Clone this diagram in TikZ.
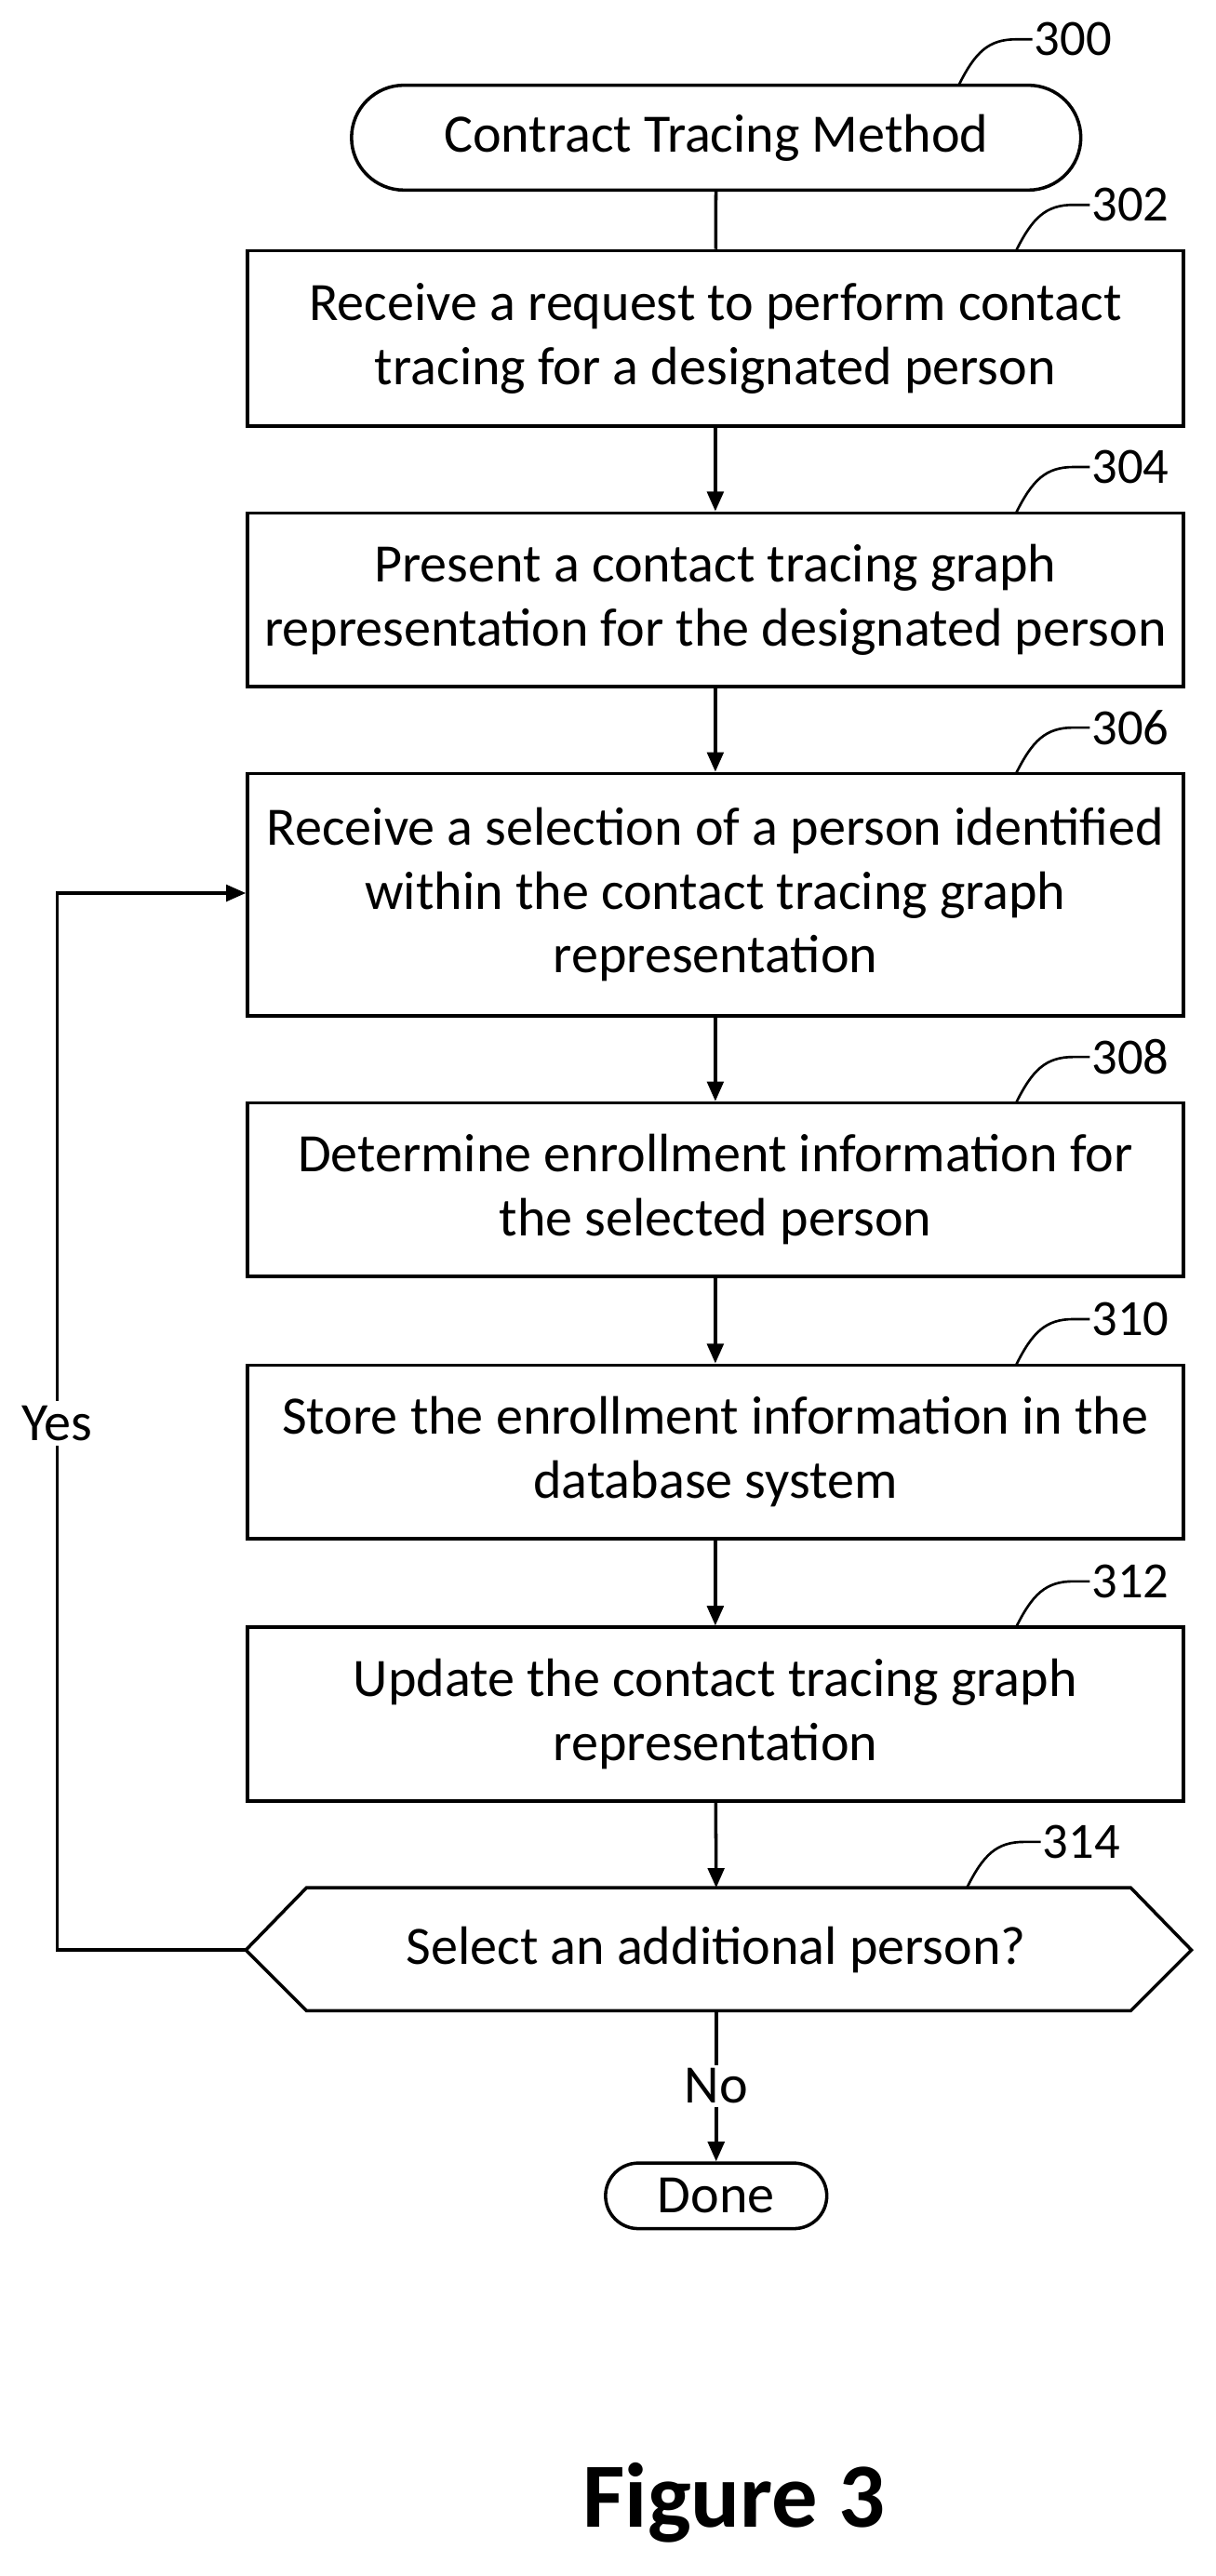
\documentclass[tikz,border=0pt]{standalone}
\usepackage{fontspec}
\setmainfont{Carlito}
\usetikzlibrary{arrows.meta}
\begin{document}
\begin{tikzpicture}[x=1pt,y=-1pt,
  txt/.style={font=\fontsize{33}{39}\selectfont,align=center},
  box/.style={draw,line width=2pt,txt},
  ln/.style={line width=2pt},
  arr/.style={ln,-{Triangle[length=12pt,width=10pt]}},
  lab/.style={font=\fontsize{31}{33}\selectfont,anchor=west,inner sep=1pt}]
\useasboundingbox (0,0) rectangle (742,1572);
\node[box,rounded corners=32pt,minimum width=445pt,minimum height=64pt] (s) at (437,84) {Contract Tracing Method};
\node[box,minimum width=571pt,minimum height=107pt] (b302) at (436.5,206.5) {Receive a request to perform contact\\tracing for a designated person};
\node[box,minimum width=571pt,minimum height=106pt] (b304) at (436.5,366) {Present a contact tracing graph\\representation for the designated person};
\node[box,minimum width=571pt,minimum height=148pt] (b306) at (436.5,546) {Receive a selection of a person identified\\within the contact tracing graph\\representation};
\node[box,minimum width=571pt,minimum height=106pt] (b308) at (436.5,726) {Determine enrollment information for\\the selected person};
\node[box,minimum width=571pt,minimum height=106pt] (b310) at (436.5,886) {Store the enrollment information in the\\database system};
\node[box,minimum width=571pt,minimum height=106pt] (b312) at (436.5,1046) {Update the contact tracing graph\\representation};
\coordinate (dl) at (150,1190); \coordinate (dr) at (727,1190);
\draw[ln] (dl) -- (187,1152) -- (690,1152) -- (dr) -- (690,1227) -- (187,1227) -- cycle;
\node[txt] (d) at (437,1190) {Select an additional person?};
\node[box,rounded corners=20pt,minimum width=135pt,minimum height=40pt,inner sep=0pt] (done) at (437,1340) {Done};
\draw[ln] (s) -- (b302);
\draw[arr] (b302) -- (b304);
\draw[arr] (b304) -- (b306);
\draw[arr] (b306) -- (b308);
\draw[arr] (b308) -- (b310);
\draw[arr] (b310) -- (b312);
\draw[arr] (b312) -- (437,1152);
\draw[arr] (437,1227) -- node[txt,fill=white,inner sep=2pt]{No} (done);
\draw[arr] (dl) -- (35,1190) -- node[txt,fill=white,inner sep=3pt,pos=0.498]{Yes} (35,545) -- (b306.west|-0,545);
\foreach \x/\y/\t in {585/52/300,620/153/302,620/313/304,620/472/306,620/673/308,620/833/310,620/993/312,590/1152/314}{
  \draw[ln,line width=1.5pt] (\x,\y) .. controls (\x+10,\y-20) and (\x+18,\y-28) .. (\x+35,\y-28) -- (\x+45,\y-28);
  \node[lab] at (\x+45,\y-28) {\t};
}
\node[font=\bfseries\fontsize{56}{60}\selectfont] (fig) at (448,1527) {Figure 3};
\end{tikzpicture}
\end{document}
